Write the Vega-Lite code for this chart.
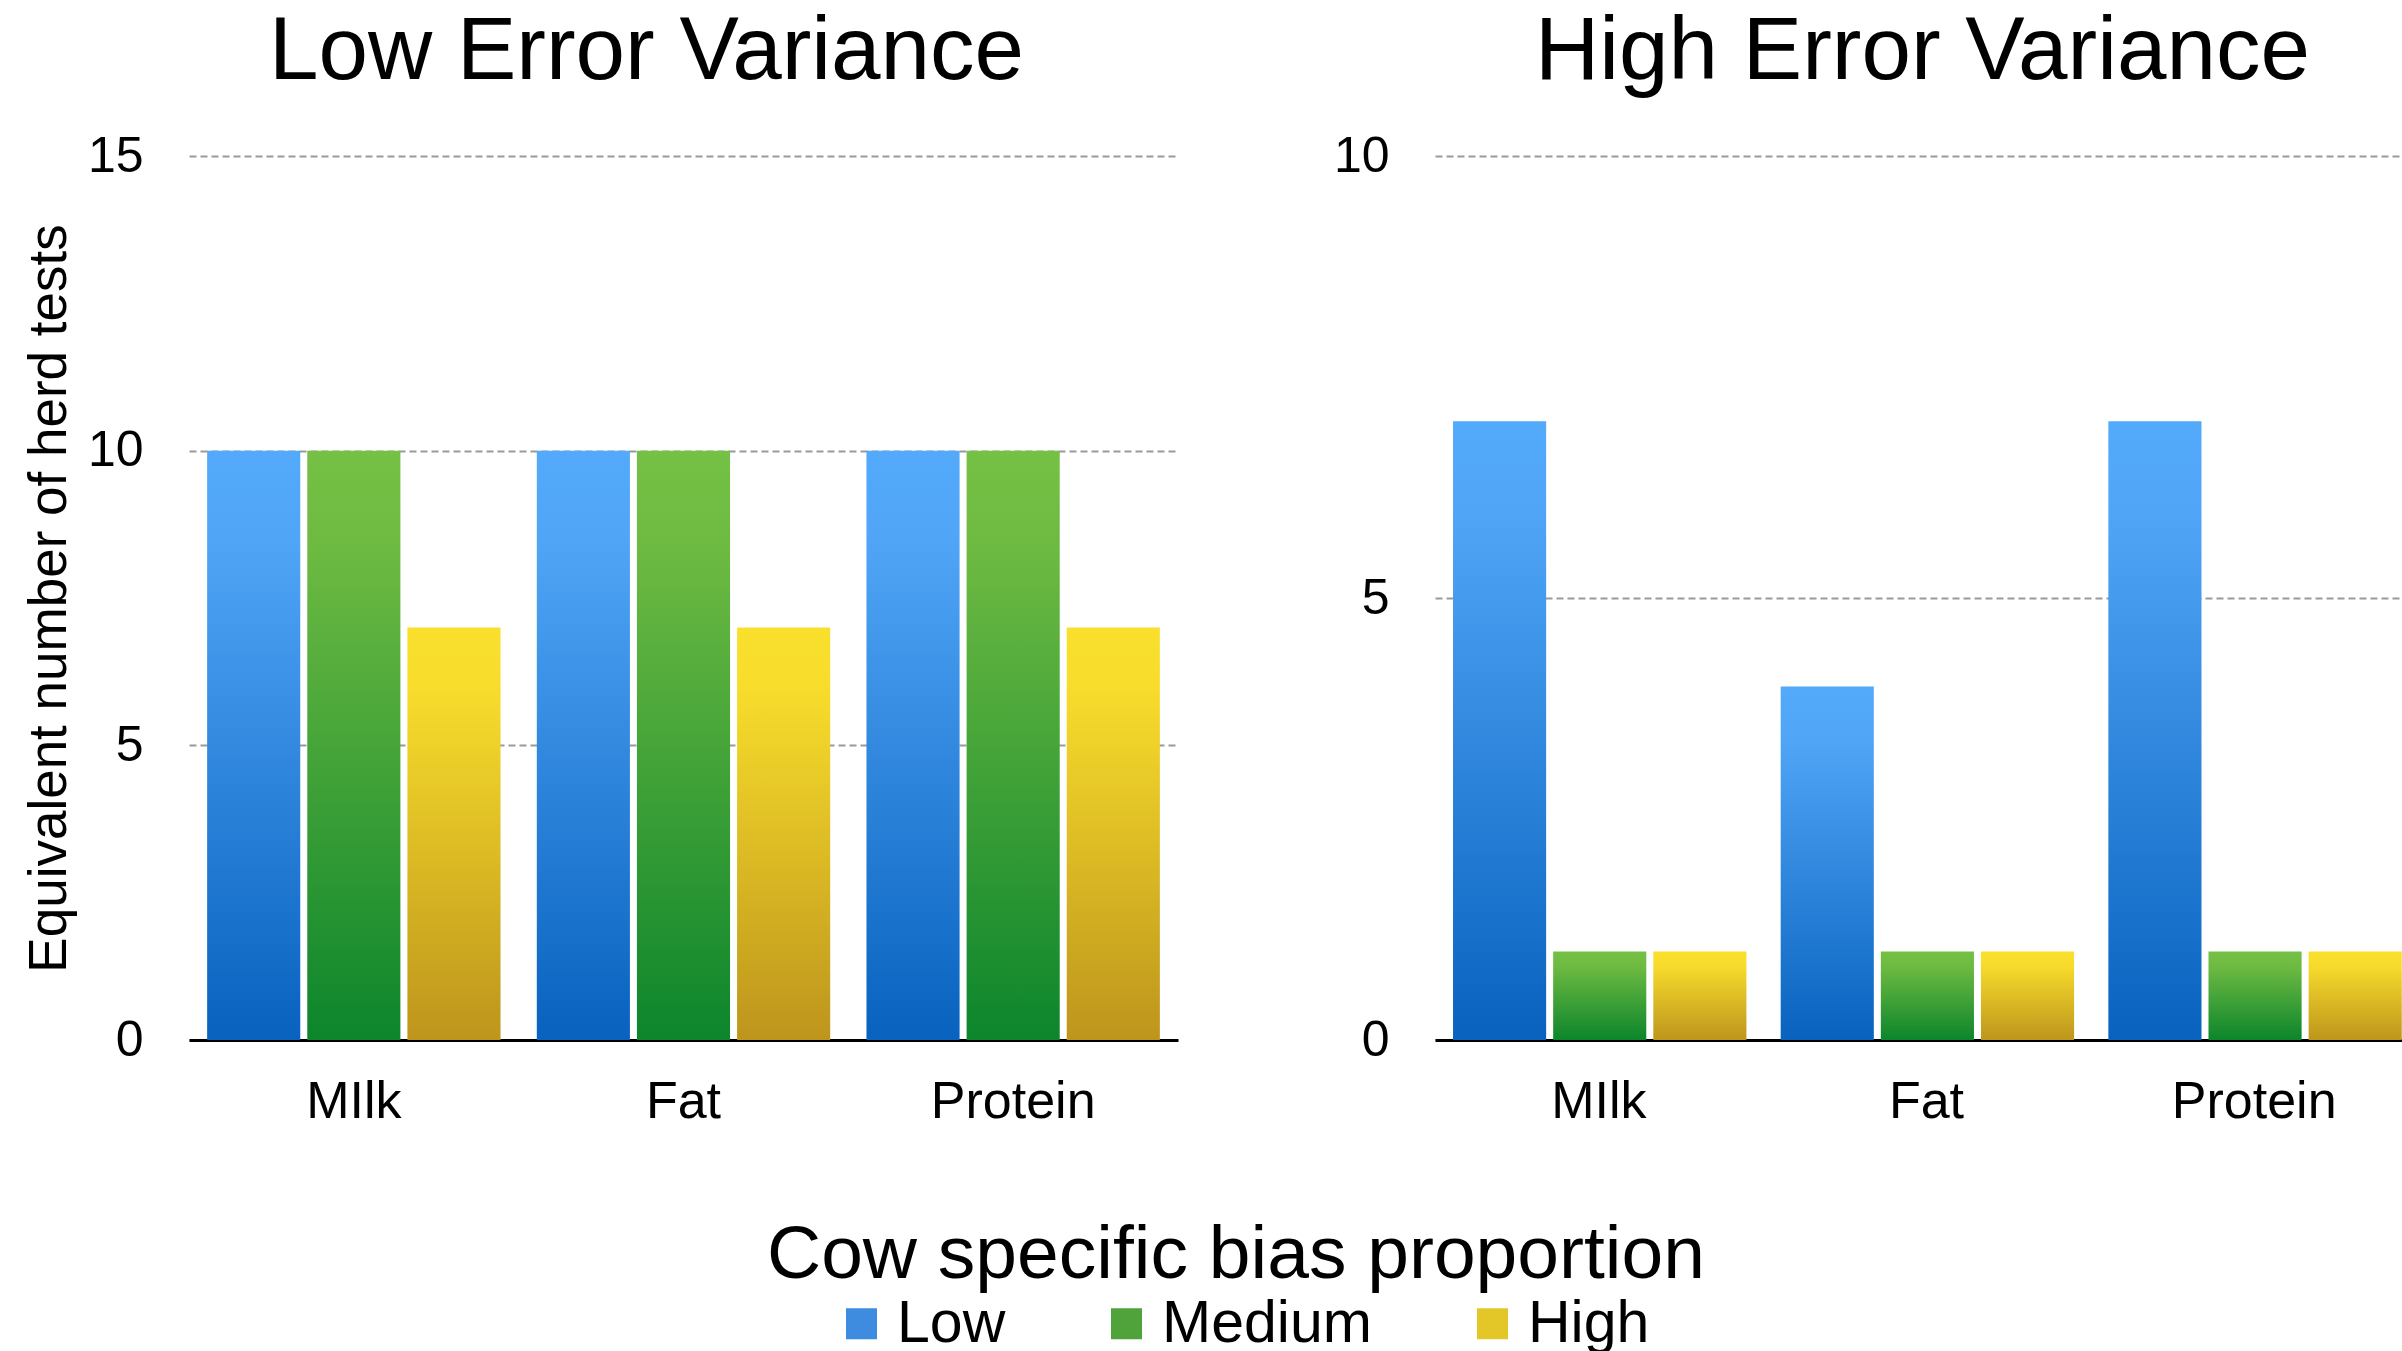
{
  "$schema": "https://vega.github.io/schema/vega-lite/v6.json",
  "usermeta": {"embedOptions": {"actions": false}},
  "background": "white",
  "padding": {"left": 23, "top": 8, "right": 0, "bottom": 0},
  "data": {
    "values": [
      {"panel": "Low Error Variance", "trait": "MIlk", "bias": "Low", "value": 10},
      {"panel": "Low Error Variance", "trait": "MIlk", "bias": "Medium", "value": 10},
      {"panel": "Low Error Variance", "trait": "MIlk", "bias": "High", "value": 7},
      {"panel": "Low Error Variance", "trait": "Fat", "bias": "Low", "value": 10},
      {"panel": "Low Error Variance", "trait": "Fat", "bias": "Medium", "value": 10},
      {"panel": "Low Error Variance", "trait": "Fat", "bias": "High", "value": 7},
      {"panel": "Low Error Variance", "trait": "Protein", "bias": "Low", "value": 10},
      {"panel": "Low Error Variance", "trait": "Protein", "bias": "Medium", "value": 10},
      {"panel": "Low Error Variance", "trait": "Protein", "bias": "High", "value": 7},
      {"panel": "High Error Variance", "trait": "MIlk", "bias": "Low", "value": 7},
      {"panel": "High Error Variance", "trait": "MIlk", "bias": "Medium", "value": 1},
      {"panel": "High Error Variance", "trait": "MIlk", "bias": "High", "value": 1},
      {"panel": "High Error Variance", "trait": "Fat", "bias": "Low", "value": 4},
      {"panel": "High Error Variance", "trait": "Fat", "bias": "Medium", "value": 1},
      {"panel": "High Error Variance", "trait": "Fat", "bias": "High", "value": 1},
      {"panel": "High Error Variance", "trait": "Protein", "bias": "Low", "value": 7},
      {"panel": "High Error Variance", "trait": "Protein", "bias": "Medium", "value": 1},
      {"panel": "High Error Variance", "trait": "Protein", "bias": "High", "value": 1}
    ]
  },
  "spacing": 155,
  "config": {
    "font": "Liberation Sans",
    "view": {"stroke": null},
    "title": {"fontSize": 89, "fontWeight": "normal", "color": "black", "offset": 33},
    "axisX": {
      "labelFontSize": 52, "labelColor": "black", "labelPadding": 36, "labelAngle": 0,
      "ticks": false, "domain": true, "domainColor": "black", "domainWidth": 3, "grid": false, "title": null
    },
    "axisY": {
      "labelFontSize": 50, "labelColor": "black", "labelPadding": 46,
      "ticks": false, "domain": false, "grid": true, "gridColor": "#999999", "gridDash": [7, 4], "gridWidth": 2,
      "titleFontSize": 53, "titleFontWeight": "normal", "titleColor": "black", "titlePadding": 11
    }
  },
  "hconcat": [
    {
      "title": {"text": "Low Error Variance", "dx": -37},
      "width": 989,
      "height": 884,
      "transform": [{"filter": "datum.panel === 'Low Error Variance'"}],
      "encoding": {
        "x": {"field": "trait", "type": "nominal", "sort": ["MIlk", "Fat", "Protein"], "scale": {"paddingInner": 0.11, "paddingOuter": 0.055}},
        "xOffset": {"field": "bias", "type": "nominal", "scale": {"domain": ["Low", "Medium", "High"], "paddingInner": 0.07, "paddingOuter": 0}},
        "y": {"field": "value", "type": "quantitative", "scale": {"domain": [0, 15]}, "axis": {"title": "Equivalent number of herd tests", "values": [0, 5, 10, 15]}}
      },
      "layer": [
        {
          "transform": [{"filter": "datum.bias === 'Low'"}],
          "mark": {"type": "bar", "fill": {"gradient": "linear", "x1": 0, "y1": 0, "x2": 0, "y2": 1, "stops": [{"offset": 0, "color": "#53A9FA"}, {"offset": 0.15, "color": "#50A5F6"}, {"offset": 1, "color": "#0862BE"}]}}
        },
        {
          "transform": [{"filter": "datum.bias === 'Medium'"}],
          "mark": {"type": "bar", "fill": {"gradient": "linear", "x1": 0, "y1": 0, "x2": 0, "y2": 1, "stops": [{"offset": 0, "color": "#75C145"}, {"offset": 0.15, "color": "#6FBB42"}, {"offset": 1, "color": "#0C852C"}]}}
        },
        {
          "transform": [{"filter": "datum.bias === 'High'"}],
          "mark": {"type": "bar", "fill": {"gradient": "linear", "x1": 0, "y1": 0, "x2": 0, "y2": 1, "stops": [{"offset": 0, "color": "#FAE02D"}, {"offset": 0.15, "color": "#F7DC2C"}, {"offset": 1, "color": "#BD951C"}]}}
        },
        {
          "mark": {"type": "bar", "opacity": 0},
          "encoding": {
            "color": {
              "field": "bias", "type": "nominal",
              "scale": {"domain": ["Low", "Medium", "High"], "range": ["#3E8CDF", "#4FA33A", "#E3C728"]},
              "legend": {
                "orient": "none", "legendX": 578, "legendY": 1063, "direction": "horizontal",
                "title": "Cow specific bias proportion", "titleFontSize": 75, "titleFontWeight": "normal", "titleColor": "black",
                "titleAnchor": "start", "titlePadding": 0, "titleLimit": 3000, "labelFontSize": 59, "labelColor": "black",
                "symbolType": "square", "symbolSize": 961, "symbolStrokeWidth": 0, "symbolOpacity": 1,
                "labelOffset": 6, "columnPadding": 91, "labelLimit": 0,
                "encoding": {
                  "title": {"dx": {"value": -65}},
                  "symbols": {
                    "opacity": {"value": 1}
                  }
                }
              }
            }
          }
        }
      ]
    },
    {
      "title": {"text": "High Error Variance", "dx": -4},
      "width": 983,
      "height": 884,
      "transform": [{"filter": "datum.panel === 'High Error Variance'"}],
      "encoding": {
        "x": {"field": "trait", "type": "nominal", "sort": ["MIlk", "Fat", "Protein"], "scale": {"paddingInner": 0.11, "paddingOuter": 0.055}},
        "xOffset": {"field": "bias", "type": "nominal", "scale": {"domain": ["Low", "Medium", "High"], "paddingInner": 0.07, "paddingOuter": 0}},
        "y": {"field": "value", "type": "quantitative", "scale": {"domain": [0, 10]}, "axis": {"title": null, "values": [0, 5, 10]}}
      },
      "layer": [
        {
          "transform": [{"filter": "datum.bias === 'Low'"}],
          "mark": {"type": "bar", "fill": {"gradient": "linear", "x1": 0, "y1": 0, "x2": 0, "y2": 1, "stops": [{"offset": 0, "color": "#53A9FA"}, {"offset": 0.15, "color": "#50A5F6"}, {"offset": 1, "color": "#0862BE"}]}}
        },
        {
          "transform": [{"filter": "datum.bias === 'Medium'"}],
          "mark": {"type": "bar", "fill": {"gradient": "linear", "x1": 0, "y1": 0, "x2": 0, "y2": 1, "stops": [{"offset": 0, "color": "#75C145"}, {"offset": 0.15, "color": "#6FBB42"}, {"offset": 1, "color": "#0C852C"}]}}
        },
        {
          "transform": [{"filter": "datum.bias === 'High'"}],
          "mark": {"type": "bar", "fill": {"gradient": "linear", "x1": 0, "y1": 0, "x2": 0, "y2": 1, "stops": [{"offset": 0, "color": "#FAE02D"}, {"offset": 0.15, "color": "#F7DC2C"}, {"offset": 1, "color": "#BD951C"}]}}
        }
      ]
    }
  ]
}
